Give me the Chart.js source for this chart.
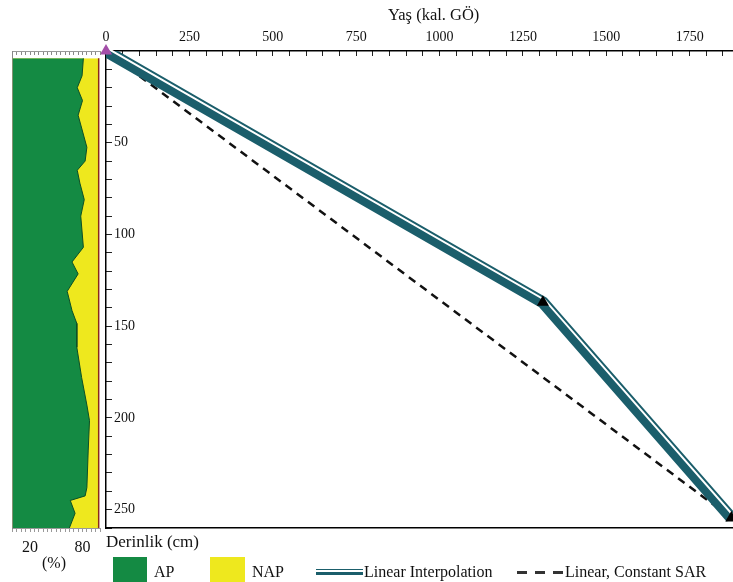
<!DOCTYPE html>
<html>
<head>
<meta charset="utf-8">
<title>Yaş-Derinlik Modeli</title>
<script src="https://cdn.jsdelivr.net/npm/chart.js@4.4.1/dist/chart.umd.min.js"></script>
<style>
  html, body { margin: 0; padding: 0; background: #fff; overflow: hidden; }
  #wrap { position: relative; width: 733px; height: 582px; font-family: "Liberation Serif", "Times New Roman", serif; color: #111; }
  canvas { position: absolute; left: 0; top: 0; }
  .t { position: absolute; white-space: nowrap; line-height: 1; }
  .box { position: absolute; }
</style>
</head>
<body>
<div id="wrap">
  <canvas id="main" width="733" height="582"></canvas>
  <canvas id="strip" width="106" height="582"></canvas>

  <div class="t" style="left:388px; top:7px; font-size:16.5px;">Yaş (kal. GÖ)</div>
  <div class="t" style="left:106px; top:533px; font-size:17px;">Derinlik (cm)</div>
  <div class="t" style="left:42px; top:555px; font-size:16px;">(%)</div>

  <!-- legend -->
  <div class="box" style="left:113px; top:557px; width:34px; height:30px; background:#148a43;"></div>
  <div class="t" style="left:154px; top:564px; font-size:16px;">AP</div>
  <div class="box" style="left:210px; top:557px; width:35px; height:30px; background:#eee81e;"></div>
  <div class="t" style="left:252px; top:564px; font-size:16px;">NAP</div>
  <div class="box" style="left:316px; top:569px; width:47px; height:6px; background:#1b5e6b;">
    <div style="position:absolute; left:0; top:1px; width:47px; height:1.5px; background:#fff;"></div>
  </div>
  <div class="t" style="left:364px; top:564px; font-size:16px;">Linear Interpolation</div>
  <div class="box" style="left:517px; top:571px; width:46px; height:3px; background:repeating-linear-gradient(90deg,#333 0 10px,transparent 10px 18px);"></div>
  <div class="t" style="left:565px; top:564px; font-size:16px;">Linear, Constant SAR</div>
</div>

<script>
// Age-depth control points (cal. BP vs. cm)
const modelAges   = [0, 1310, 1875];
const modelDepths = [0, 137, 254.5];

// Pollen sum profile: sample depths (cm) and percentages
const stripDepths = [4, 13.5, 20, 27, 35, 52.5, 60, 65, 72, 81, 90, 107, 115, 121.5, 131, 141.5, 148.5, 161.5, 178, 193, 201.5, 218, 238, 242.5, 245, 252, 260];
const apPercent   = [81, 79.5, 74, 80, 75, 85, 83, 74, 77, 82, 78, 81, 68, 75, 62.5, 68, 73.5, 73.5, 79, 85, 88, 86.5, 85, 83, 66, 71.5, 65];
const napPercent  = [17.5, 19, 24.5, 18.5, 23.5, 13.5, 15.5, 24.5, 21.5, 16.5, 20.5, 17.5, 30.5, 23.5, 36, 30.5, 25, 25, 19.5, 13.5, 10.5, 12, 13.5, 15.5, 32.5, 27, 33.5];

// Labelled ticks
const ageTickLabels   = [0, 250, 500, 750, 1000, 1250, 1500, 1750];
const depthTickLabels = [50, 100, 150, 200, 250];
const pctTickLabels   = [20, 80];

const TEAL = '#1b5e6b';
const SERIF = 'Liberation Serif';

// Shifts a dataset's drawing by a fixed pixel offset (white stripe inside the band)
const stripeOffset = {
  id: 'stripeOffset',
  beforeDatasetDraw(chart, args) {
    const ds = chart.data.datasets[args.index];
    if (ds.pixelShift) {
      chart.ctx.save();
      chart.ctx.translate(ds.pixelShift[0], ds.pixelShift[1]);
    }
  },
  afterDatasetDraw(chart, args) {
    const ds = chart.data.datasets[args.index];
    if (ds.pixelShift) chart.ctx.restore();
  }
};

const modelPoints = modelAges.map((a, i) => ({ x: a, y: modelDepths[i] }));
const sarPoints = [modelPoints[0], modelPoints[modelPoints.length - 1]];

new Chart(document.getElementById('main'), {
  type: 'line',
  data: {
    datasets: [
      {
        label: 'dates',
        data: modelPoints,
        showLine: false,
        pointStyle: 'triangle',
        pointRadius: 7,
        pointBorderWidth: 0,
        pointBackgroundColor: ['#a34ea8', '#000', '#000'],
        clip: false,
        order: 0
      },
      {
        label: 'Linear Interpolation stripe',
        data: modelPoints,
        borderColor: '#ffffff',
        borderWidth: 2,
        pointRadius: 0,
        tension: 0,
        borderJoinStyle: 'miter',
        pixelShift: [1.9, -2.4],
        clip: 0,
        order: 1
      },
      {
        label: 'Linear Interpolation',
        data: modelPoints,
        borderColor: TEAL,
        borderWidth: 12,
        pointRadius: 0,
        tension: 0,
        borderJoinStyle: 'miter',
        clip: 0,
        order: 2
      },
      {
        label: 'Linear, Constant SAR',
        data: sarPoints,
        borderColor: '#111',
        borderWidth: 2.5,
        borderDash: [8, 6],
        pointRadius: 0,
        clip: 0,
        order: 3
      }
    ]
  },
  options: {
    responsive: false,
    animation: false,
    layout: { autoPadding: false, padding: { left: 106, right: 0, top: 0, bottom: 0 } },
    plugins: { legend: { display: false }, tooltip: { enabled: false } },
    scales: {
      x: {
        type: 'linear', position: 'top', min: 0, max: 1880,
        ticks: {
          stepSize: 50, autoSkip: false, maxRotation: 0, includeBounds: false,
          padding: 10, color: '#111', font: { family: SERIF, size: 14 },
          callback: v => ageTickLabels.includes(v) ? String(v) : ''
        },
        grid: { drawOnChartArea: false, drawTicks: true, tickLength: -5, tickColor: '#222', tickWidth: 1 },
        border: { display: true, color: '#000', width: 1.5 },
        afterFit(s) { s.height = 51; }
      },
      xb: {
        type: 'linear', position: 'bottom', min: 0, max: 1880,
        ticks: { display: false },
        grid: { drawOnChartArea: false, drawTicks: false },
        border: { display: true, color: '#000', width: 1.5 },
        afterFit(s) { s.height = 54; }
      },
      y: {
        type: 'linear', position: 'left', reverse: true, min: 0, max: 260,
        ticks: {
          stepSize: 10, autoSkip: false, includeBounds: false, mirror: true,
          padding: 8, color: '#111', font: { family: SERIF, size: 14 },
          callback: v => depthTickLabels.includes(v) ? String(v) : ''
        },
        grid: { drawOnChartArea: false, drawTicks: true, tickLength: -6, tickColor: '#222', tickWidth: 1 },
        border: { display: true, color: '#000', width: 1.5 },
        afterFit(s) { s.width = 0; }
      }
    }
  },
  plugins: [stripeOffset]
});

// Pollen strip: AP filled from 0, NAP stacked on top of AP
const apPoints = stripDepths.map((d, i) => ({ x: apPercent[i], y: d }));
const napPoints = stripDepths.map((d, i) => ({ x: apPercent[i] + napPercent[i], y: d }));

new Chart(document.getElementById('strip'), {
  type: 'line',
  data: {
    datasets: [
      {
        label: 'AP', data: apPoints, fill: 'origin',
        backgroundColor: '#148a43', borderColor: '#0c4f27', borderWidth: 1,
        pointRadius: 0, tension: 0, order: 0
      },
      {
        label: 'NAP', data: napPoints, fill: 'origin',
        backgroundColor: '#eee81e', borderColor: '#8a2a1c', borderWidth: 1.5,
        pointRadius: 0, tension: 0, order: 1
      }
    ]
  },
  options: {
    responsive: false,
    animation: false,
    indexAxis: 'y',
    layout: { autoPadding: false, padding: { left: 12.5, right: 6, top: 0, bottom: 0 } },
    plugins: { legend: { display: false }, tooltip: { enabled: false } },
    scales: {
      x: {
        type: 'linear', position: 'bottom', min: 0, max: 100,
        ticks: {
          stepSize: 5, autoSkip: false, maxRotation: 0, includeBounds: false,
          padding: 6, color: '#111', font: { family: SERIF, size: 16 },
          callback: v => pctTickLabels.includes(v) ? String(v) : ''
        },
        grid: { drawOnChartArea: false, drawTicks: true, tickLength: 4, tickColor: '#999' },
        border: { display: true, color: '#999', width: 1 },
        afterFit(s) { s.height = 54; }
      },
      xt: {
        type: 'linear', position: 'top', min: 0, max: 100,
        ticks: { stepSize: 5, autoSkip: false, maxRotation: 0, callback: () => '' },
        grid: { drawOnChartArea: false, drawTicks: true, tickLength: -4, tickColor: '#888' },
        border: { display: true, color: '#999', width: 1 },
        afterFit(s) { s.height = 51; }
      },
      y: {
        type: 'linear', position: 'left', reverse: true, min: 0, max: 260,
        ticks: { display: false },
        grid: { drawOnChartArea: false, drawTicks: false },
        border: { display: true, color: '#888', width: 1 },
        afterFit(s) { s.width = 0; }
      }
    }
  }
});
</script>
</body>
</html>
